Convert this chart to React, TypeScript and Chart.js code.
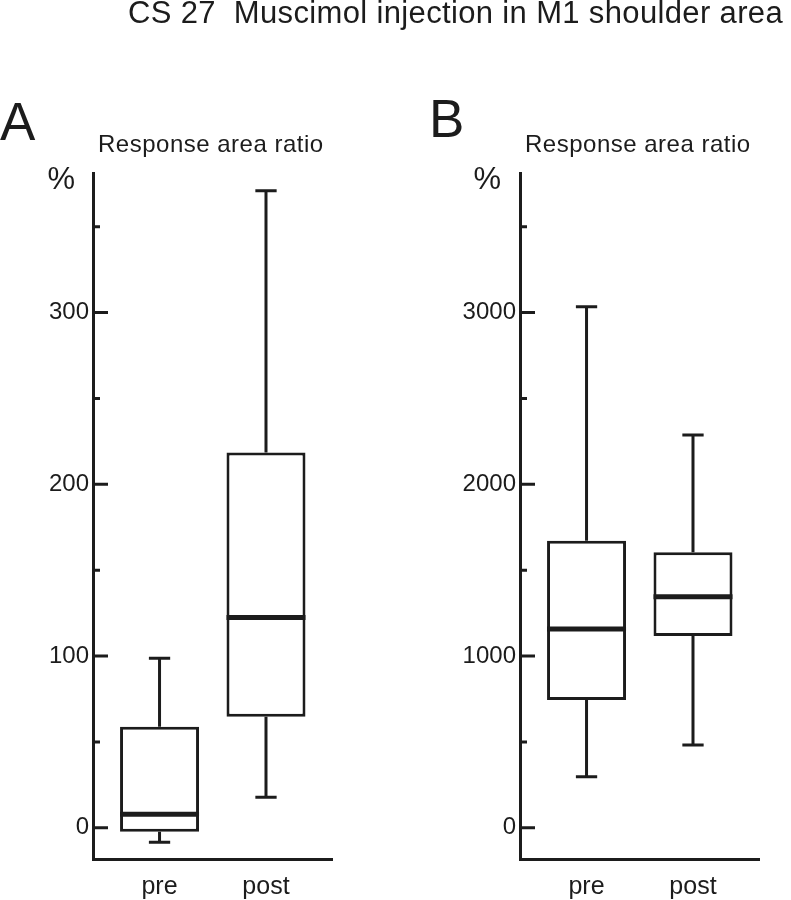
import React, { useEffect, useRef } from 'react';
import { Chart, registerables } from 'chart.js';

Chart.register(...registerables);

const INK = '#1c1c1c';
const FONT = '"Liberation Sans", Arial, Helvetica, sans-serif';

const categories = ['pre', 'post'];

// Panel A – response area ratio (%)
const aLow = [-8.5, 17.7];
const aQ1 = [-2.3, 64.6];
const aMedian = [7.9, 122.5];
const aQ3 = [58.8, 218.6];
const aHigh = [98.7, 371];
const aMajorTicks = [0, 100, 200, 300];
const aMinorTicks = [50, 150, 250, 350];
const aYRange = [-18.2, 381.3];

// Panel B – response area ratio (%)
const bLow = [297, 482];
const bQ1 = [744, 1116];
const bMedian = [1157, 1345];
const bQ3 = [1671, 1604];
const bHigh = [3034, 2287];
const bMajorTicks = [0, 1000, 2000, 3000];
const bMinorTicks = [500, 1500, 2500, 3500];
const bYRange = [-182, 3813];

const xRange = [-0.625, 1.62];

type Stats = { low: number[]; q1: number[]; median: number[]; q3: number[]; high: number[] };

function makeBoxPlugin(s: Stats) {
  return {
    id: 'boxWhiskers',
    afterDatasetsDraw(chart: any) {
      const { ctx } = chart;
      const xs = chart.scales.x;
      const ys = chart.scales.y;
      const meta = chart.getDatasetMeta(0);
      const capHalf = 0.1;
      ctx.save();
      ctx.strokeStyle = INK;
      ctx.lineCap = 'butt';
      s.low.forEach((_, i) => {
        const cx = xs.getPixelForValue(i);
        const bar = meta.data[i];
        const half = bar.width / 2;
        const yLow = ys.getPixelForValue(s.low[i]);
        const yHigh = ys.getPixelForValue(s.high[i]);
        const yQ1 = ys.getPixelForValue(s.q1[i]);
        const yQ3 = ys.getPixelForValue(s.q3[i]);
        const yMed = ys.getPixelForValue(s.median[i]);
        const cl = xs.getPixelForValue(i - capHalf);
        const cr = xs.getPixelForValue(i + capHalf);
        ctx.lineWidth = 3;
        ctx.beginPath();
        ctx.moveTo(cx, yHigh);
        ctx.lineTo(cx, yQ3);
        ctx.moveTo(cx, yQ1);
        ctx.lineTo(cx, yLow);
        ctx.moveTo(cl, yHigh);
        ctx.lineTo(cr, yHigh);
        ctx.moveTo(cl, yLow);
        ctx.lineTo(cr, yLow);
        ctx.stroke();
        ctx.lineWidth = 5;
        ctx.beginPath();
        ctx.moveTo(cx - half, yMed);
        ctx.lineTo(cx + half, yMed);
        ctx.stroke();
      });
      ctx.restore();
    },
  };
}

function makeTickPlugin(major: number[], minor: number[], majorLen: number, minorLen: number) {
  return {
    id: 'inwardTicks',
    afterDraw(chart: any) {
      const { ctx, chartArea } = chart;
      const ys = chart.scales.y;
      ctx.save();
      ctx.strokeStyle = INK;
      ctx.lineWidth = 3;
      ctx.lineCap = 'butt';
      ctx.beginPath();
      major.forEach((v) => {
        const py = ys.getPixelForValue(v);
        ctx.moveTo(chartArea.left, py);
        ctx.lineTo(chartArea.left + majorLen, py);
      });
      minor.forEach((v) => {
        const py = ys.getPixelForValue(v);
        ctx.moveTo(chartArea.left, py);
        ctx.lineTo(chartArea.left + minorLen, py);
      });
      ctx.stroke();
      ctx.restore();
    },
  };
}

function buildChart(
  canvas: HTMLCanvasElement,
  s: Stats,
  major: number[],
  minor: number[],
  yRange: number[],
  yAxisWidth: number,
  padRight: number,
  majorLen: number,
  minorLen: number
) {
  const allTicks = [...major, ...minor].sort((a, b) => a - b);
  return new Chart(canvas, {
    type: 'bar',
    data: {
      datasets: [
        {
          data: categories.map((_, i) => ({ x: i, y: [s.q1[i], s.q3[i]] })) as any,
          backgroundColor: '#ffffff',
          borderColor: INK,
          borderWidth: 3,
          borderSkipped: false,
          categoryPercentage: 1,
          barPercentage: 0.742,
        } as any,
      ],
    },
    options: {
      responsive: false,
      animation: false,
      devicePixelRatio: 1,
      events: [],
      layout: { padding: { top: 173, right: padRight, bottom: 0, left: 0 } },
      plugins: {
        legend: { display: false },
        tooltip: { enabled: false },
        title: { display: false },
      },
      scales: {
        x: {
          type: 'linear',
          min: xRange[0],
          max: xRange[1],
          offset: false,
          grid: { display: false, drawTicks: false },
          border: { display: true, color: INK, width: 3 },
          afterBuildTicks: (sc: any) => {
            sc.ticks = categories.map((_, i) => ({ value: i }));
          },
          afterFit: (sc: any) => {
            sc.height = 41;
          },
          ticks: {
            autoSkip: false,
            maxRotation: 0,
            minRotation: 0,
            padding: 13,
            color: INK,
            font: { family: FONT, size: 25 },
            callback: (v: any) => categories[v as number] ?? '',
          },
        },
        y: {
          type: 'linear',
          min: yRange[0],
          max: yRange[1],
          grid: { display: false, drawTicks: false },
          border: { display: true, color: INK, width: 3 },
          afterBuildTicks: (sc: any) => {
            sc.ticks = allTicks.map((v) => ({ value: v }));
          },
          afterFit: (sc: any) => {
            sc.width = yAxisWidth;
          },
          ticks: {
            autoSkip: false,
            padding: 4,
            color: INK,
            font: { family: FONT, size: 24 },
            callback: (v: any) => (major.includes(v as number) ? String(v) : ''),
          },
        },
      },
    } as any,
    plugins: [makeBoxPlugin(s), makeTickPlugin(major, minor, majorLen, minorLen)],
  });
}

const textBase: React.CSSProperties = {
  position: 'absolute',
  whiteSpace: 'pre',
  fontFamily: FONT,
  color: INK,
  margin: 0,
};

export default function App() {
  const refA = useRef<HTMLCanvasElement>(null);
  const refB = useRef<HTMLCanvasElement>(null);

  useEffect(() => {
    const chartA = buildChart(
      refA.current!,
      { low: aLow, q1: aQ1, median: aMedian, q3: aQ3, high: aHigh },
      aMajorTicks,
      aMinorTicks,
      aYRange,
      93,
      68,
      15,
      7
    );
    const chartB = buildChart(
      refB.current!,
      { low: bLow, q1: bQ1, median: bMedian, q3: bQ3, high: bHigh },
      bMajorTicks,
      bMinorTicks,
      bYRange,
      120,
      32,
      15,
      7
    );
    return () => {
      chartA.destroy();
      chartB.destroy();
    };
  }, []);

  return (
    <div
      style={{
        position: 'absolute',
        left: 0,
        top: 0,
        width: 791,
        height: 900,
        background: '#ffffff',
        overflow: 'hidden',
      }}
    >
      <canvas
        ref={refA}
        width={400}
        height={900}
        style={{ position: 'absolute', left: 0, top: 0, width: 400, height: 900 }}
      />
      <canvas
        ref={refB}
        width={391}
        height={900}
        style={{ position: 'absolute', left: 400, top: 0, width: 391, height: 900 }}
      />
      <div style={{ ...textBase, left: 128, top: -3, fontSize: 31, lineHeight: '31px', letterSpacing: '0.35px' }}>
        CS 27  Muscimol injection in M1 shoulder area
      </div>
      <div style={{ ...textBase, left: 0, top: 95, fontSize: 53, lineHeight: '53px' }}>A</div>
      <div style={{ ...textBase, left: 429, top: 92, fontSize: 53, lineHeight: '53px' }}>B</div>
      <div style={{ ...textBase, left: 98, top: 131.5, fontSize: 24, lineHeight: '24px', letterSpacing: '0.5px' }}>
        Response area ratio
      </div>
      <div style={{ ...textBase, left: 525, top: 131.5, fontSize: 24, lineHeight: '24px', letterSpacing: '0.5px' }}>
        Response area ratio
      </div>
      <div style={{ ...textBase, left: 47.5, top: 162.5, fontSize: 31, lineHeight: '31px' }}>%</div>
      <div style={{ ...textBase, left: 473.5, top: 163, fontSize: 31, lineHeight: '31px' }}>%</div>
    </div>
  );
}
